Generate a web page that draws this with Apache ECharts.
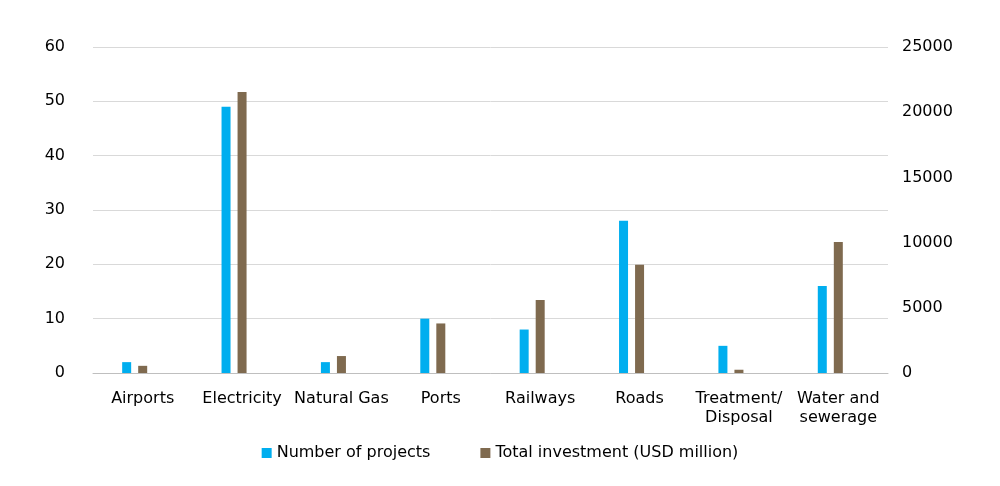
<!DOCTYPE html>
<html><head><meta charset="utf-8">
<script src="https://cdn.jsdelivr.net/npm/echarts@6/dist/echarts.min.js"></script>
<style>html,body{margin:0;padding:0;background:#fff}#c{width:1000px;height:486px}</style>
</head><body><div id="c"></div>
<script>
const categories = ['Airports','Electricity','Natural Gas','Ports','Railways','Roads','Treatment/\nDisposal','Water and\nsewerage'];
const projects = [2,49,2,10,8,28,5,16];
const investment = [550,21550,1300,3800,5600,8300,250,10050];
const leftTicks = {min:0,max:60,interval:10};
const rightTicks = {min:0,max:25000,interval:5000};
const font = 'DejaVu Sans';
const chart = echarts.init(document.getElementById('c'));
chart.setOption({
  animation:false,
  textStyle:{fontFamily:font},
  grid:{left:93,right:112,top:47,bottom:113},
  legend:{bottom:20,left:'center',itemWidth:10,itemHeight:10,itemGap:50,icon:'rect',
    textStyle:{fontSize:16,color:'#000',fontFamily:font},
    data:['Number of projects','Total investment (USD million)']},
  xAxis:{type:'category',data:categories,
    axisLine:{lineStyle:{color:'#bfbfbf'}},axisTick:{show:false},
    axisLabel:{color:'#000',fontSize:16,margin:16,lineHeight:19,interval:0,fontFamily:font}},
  yAxis:[
    {type:'value',...leftTicks,axisLine:{show:false},axisTick:{show:false},
      axisLabel:{color:'#000',fontSize:16,margin:28,fontFamily:font},
      splitLine:{lineStyle:{color:'#d9d9d9'}}},
    {type:'value',...rightTicks,axisLine:{show:false},axisTick:{show:false},
      axisLabel:{color:'#000',fontSize:16,margin:14,fontFamily:font,formatter:v=>String(v)},
      splitLine:{show:false}}
  ],
  series:[
    {name:'Number of projects',type:'bar',data:projects,yAxisIndex:0,barWidth:9,barGap:'78%',itemStyle:{color:'#00aeef'}},
    {name:'Total investment (USD million)',type:'bar',data:investment,yAxisIndex:1,barWidth:9,barGap:'78%',itemStyle:{color:'#7f6a4f'}},
    {name:'spacer',type:'bar',data:[],yAxisIndex:1,barWidth:9,barGap:'78%'}
  ]
});
</script></body></html>
